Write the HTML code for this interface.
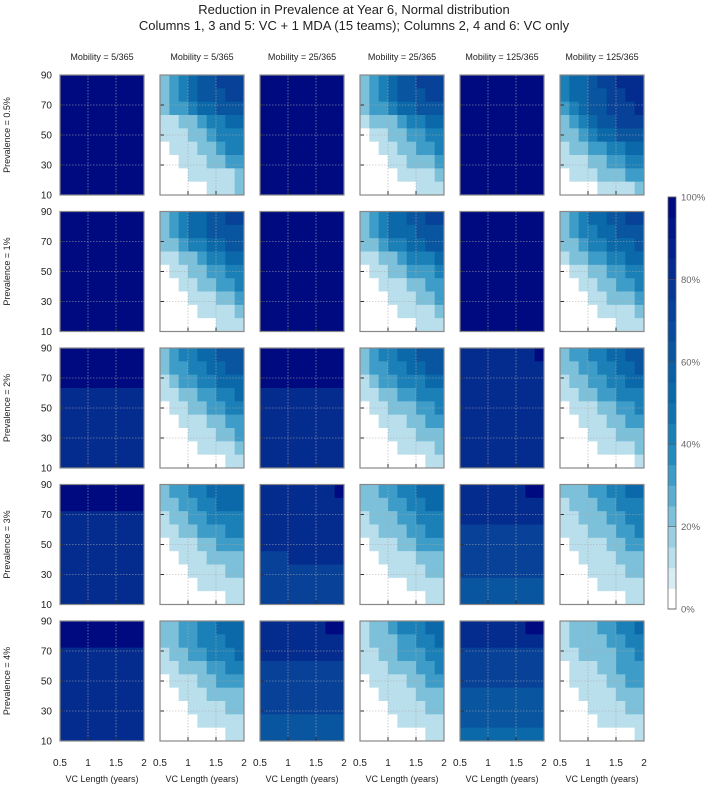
<!DOCTYPE html>
<html><head><meta charset="utf-8">
<style>
body{margin:0;background:#fff;}
svg{display:block;font-family:"Liberation Sans","DejaVu Sans",sans-serif;}
</style></head>
<body>
<svg id="chart" width="708" height="785" viewBox="0 0 708 785">
<text x="354" y="14" text-anchor="middle" font-size="13" fill="#222">Reduction in Prevalence at Year 6, Normal distribution</text>
<text x="354" y="30" text-anchor="middle" font-size="13" fill="#222">Columns 1, 3 and 5: VC + 1 MDA (15 teams); Columns 2, 4 and 6: VC only</text>
<g id="panels"></g>
<g id="cbar"></g>
</svg>
<script>
const colLabels = ["Mobility = 5/365","Mobility = 5/365","Mobility = 25/365","Mobility = 25/365","Mobility = 125/365","Mobility = 125/365"];
const rowLabels = ["Prevalence = 0.5%","Prevalence = 1%","Prevalence = 2%","Prevalence = 3%","Prevalence = 4%"];
const yTicks = [10,30,50,70,90];
const xTicks = [0.5,1,1.5,2];
const xTickLabels = ["0.5","1","1.5","2"];
const cbarTicks = [0,20,40,60,80,100];
// each panel: 9 rows (top = y 90 -> bottom = y 10), 9 columns (VC 0.5 -> 2); digit d => d*10+2 %, 9 => 98%, 0 => 0%
const row1Data = [
 ["999999999","999999999","999999999","999999999","999999999","999999999","999999999","999999999","999999999"],
 ["234566777","234566677","233455666","112234455","111223444","011122344","001112233","000111112","000001112"],
 ["999999999","999999999","999999999","999999999","999999999","999999999","999999999","999999999","999999999"],
 ["234566777","234566677","233455666","122234455","011223344","001122334","000112223","000011112","000000111"],
 ["999999999","999999999","999999999","999999999","999999999","999999999","999999999","999999999","999999999"],
 ["455677888","455667788","345667778","234566777","223455666","122334455","111223344","011122233","000011112"]
];
const row2Data = [
 ["999999999","999999999","999999999","999999999","999999999","999999999","999999999","999999999","999999999"],
 ["234556677","234556666","223445566","112234455","011223344","001122334","000111223","000011112","000000111"],
 ["999999999","999999999","999999999","999999999","999999999","999999999","999999999","999999999","999999999"],
 ["234556677","234555666","223445566","112234445","011223334","001112233","000111223","000011112","000000111"],
 ["999999999","999999999","999999999","999999999","999999999","999999999","999999999","999999999","999999999"],
 ["234556677","234455666","223445556","122334455","011223344","001122334","000112223","000011112","000000111"]
];
const row3Data = [
 ["999999999","999999999","999999999","888888888","888888888","888888888","888888888","888888888","888888888"],
 ["234455666","233445566","123344555","112233445","011223344","001112233","000111223","000011112","000000011"],
 ["999999999","999999999","999999999","888888888","888888888","888888888","888888888","888888888","888888888"],
 ["234455666","233445566","123344455","112233444","011222334","001112233","000111222","000011112","000000011"],
 ["888888889","888888888","888888888","888888888","888888888","888888888","888888888","888888888","888888888"],
 ["233445566","223344556","122334455","112233444","011122334","001112233","000111222","000011112","000000001"]
];
const row4Data = [
 ["999999999","999999999","888888888","888888888","888888888","888888888","888888888","888888888","888888888"],
 ["233445555","223344555","122334444","112233344","011122333","001112222","000111122","000011111","000000011"],
 ["888888889","888888888","888888888","888888888","888888888","777888888","777777777","777777777","777777777"],
 ["223344555","222334455","122233444","112223344","011122333","001111222","000111122","000001111","000000011"],
 ["888888899","888888888","888888888","777777777","777777777","777777777","777777777","666666666","666666666"],
 ["222334455","122233444","112223344","111222334","011112233","001111222","000111122","000011111","000000011"]
];
const row5Data = [
 ["999999999","999999999","888888888","888888888","888888888","888888888","888888888","888888888","888888888"],
 ["223344555","223344455","122334445","112223344","011122333","001112222","000111122","000011111","000000011"],
 ["888888899","888888888","888888888","777777777","777777777","777777777","777777777","666666666","666666666"],
 ["122344455","122233445","112233344","111222334","011112233","001111222","000111122","000011111","000000011"],
 ["888888899","888888888","777777777","777777777","777777777","666666666","666666666","666666666","555555555"],
 ["122233445","122223344","112222334","011122333","011112233","001111222","000111122","000011111","000000001"]
];
const allData = [row1Data,row2Data,row3Data,row4Data,row5Data];

const NS="http://www.w3.org/2000/svg";
const colX0 = 60, colStep = 100, pw = 84;
const rowY0 = 75, rowStep = 136.5, ph = 120;
const stops=[[0.075,[215,236,243]],[0.15,[170,216,232]],[0.225,[125,192,218]],[0.3,[75,165,205]],[0.375,[35,140,190]],[0.5,[12,110,172]],[0.65,[8,80,158]],[0.8,[5,50,145]],[0.975,[0,10,128]]];
function color(v){
  const lvl=Math.min(19,Math.floor(v/5));
  if(lvl===0) return "#ffffff";
  const t=(lvl+0.5)/20;
  if(t<=stops[0][0]){const c=stops[0][1];return `rgb(${c[0]},${c[1]},${c[2]})`;}
  for(let i=1;i<stops.length;i++){
    if(t<=stops[i][0]){
      const a=stops[i-1],b=stops[i],f=(t-a[0])/(b[0]-a[0]);
      const c=a[1].map((x,k)=>Math.round(x+(b[1][k]-x)*f));
      return `rgb(${c[0]},${c[1]},${c[2]})`;
    }
  }
  return "rgb(0,10,128)";
}
function digitValue(d){return d===0?0:(d===9?98:d*10+2);}
function xScale(c,v){return colX0+c*colStep+(v-0.5)/1.5*pw;}
function yScale(r,v){return rowY0+r*rowStep+(90-v)/80*ph;}
function mk(tag,attrs,parent){const e=document.createElementNS(NS,tag);for(const k in attrs)e.setAttribute(k,attrs[k]);parent.appendChild(e);return e;}
const root=document.getElementById('panels');
for(let r=0;r<5;r++){
  const lab=mk('text',{x:10,y:yScale(r,50),'font-size':9,fill:'#222','text-anchor':'middle',transform:`rotate(-90 10 ${yScale(r,50)})`},root);
  
  
  lab.textContent=rowLabels[r];
  yTicks.forEach(t=>{
    const tl=mk('text',{x:52,y:yScale(r,t)+3.5,'font-size':10,fill:'#222','text-anchor':'end'},root);
    
    
    tl.textContent=t;
  });
  for(let c=0;c<6;c++){
    const g=mk('g',{},root);
    
    
    const grid=allData[r][c];
    const nR=grid.length;
    for(let i=0;i<nR;i++){
      const row=grid[i];
      const nC=row.length;
      for(let j=0;j<nC;j++){
        const v=digitValue(+row[j]);
        const x0=xScale(c,0.5+j*1.5/nC), x1=xScale(c,0.5+(j+1)*1.5/nC);
        const y0=yScale(r,90-i*80/nR), y1=yScale(r,90-(i+1)*80/nR);
        const cell=mk('rect',{x:x0,y:y0,width:x1-x0+0.4,height:y1-y0+0.4,fill:color(v)},g);
        
        
      }
    }
    [1,1.5].forEach(t=>mk('line',{x1:xScale(c,t),x2:xScale(c,t),y1:yScale(r,90),y2:yScale(r,10),stroke:'#aaa','stroke-width':0.6,'stroke-dasharray':'1.5,1.5'},g));
    [30,50,70].forEach(t=>mk('line',{x1:xScale(c,0.5),x2:xScale(c,2),y1:yScale(r,t),y2:yScale(r,t),stroke:'#aaa','stroke-width':0.6,'stroke-dasharray':'1.5,1.5'},g));
    [30,50,70].forEach(t=>mk('line',{x1:xScale(c,0.5),x2:xScale(c,0.5)+4,y1:yScale(r,t),y2:yScale(r,t),stroke:'#333','stroke-width':1},g));
    [1,1.5].forEach(t=>mk('line',{x1:xScale(c,t),x2:xScale(c,t),y1:yScale(r,10),y2:yScale(r,10)-4,stroke:'#333','stroke-width':1},g));
    mk('rect',{x:xScale(c,0.5),y:yScale(r,90),width:pw,height:ph,fill:'none',stroke:'#888','stroke-width':1.2},g);
    if(r===0){
      const cl=mk('text',{x:xScale(c,1.25),y:60,'font-size':9,fill:'#222','text-anchor':'middle'},root);
      
      
      cl.textContent=colLabels[c];
    }
    if(r===4){
      xTicks.forEach((t,k)=>{
        const xl=mk('text',{x:xScale(c,t),y:766,'font-size':10,fill:'#222','text-anchor':'middle'},root);
        
        
        xl.textContent=xTickLabels[k];
      });
      const xt=mk('text',{x:xScale(c,1.25),y:782,'font-size':9,fill:'#222','text-anchor':'middle'},root);
      
      
      xt.textContent='VC Length (years)';
    }
  }
}
// colorbar
const cb=document.getElementById('cbar');
const cbTop=197,cbBot=609,cbX=668,cbW=8;
for(let l=0;l<20;l++){
  const y1=cbBot-(l+1)*(cbBot-cbTop)/20, y0=cbBot-l*(cbBot-cbTop)/20;
  const s=mk('rect',{x:cbX,y:y1,width:cbW,height:y0-y1+0.4,fill:color(l*5+1)},cb);
  
  
}
mk('rect',{x:cbX,y:cbTop,width:cbW,height:cbBot-cbTop,fill:'none',stroke:'#666','stroke-width':0.8},cb);
cbarTicks.forEach(t=>{
  const y=cbBot-t/100*(cbBot-cbTop);
  mk('line',{x1:cbX,x2:cbX+cbW,y1:y,y2:y,stroke:'#555','stroke-width':0.6},cb);
  const tl=mk('text',{x:681,y:y+3.5,'font-size':9.5,fill:'#666'},cb);
  
  
  tl.textContent=t+'%';
});
</script>
</body></html>
